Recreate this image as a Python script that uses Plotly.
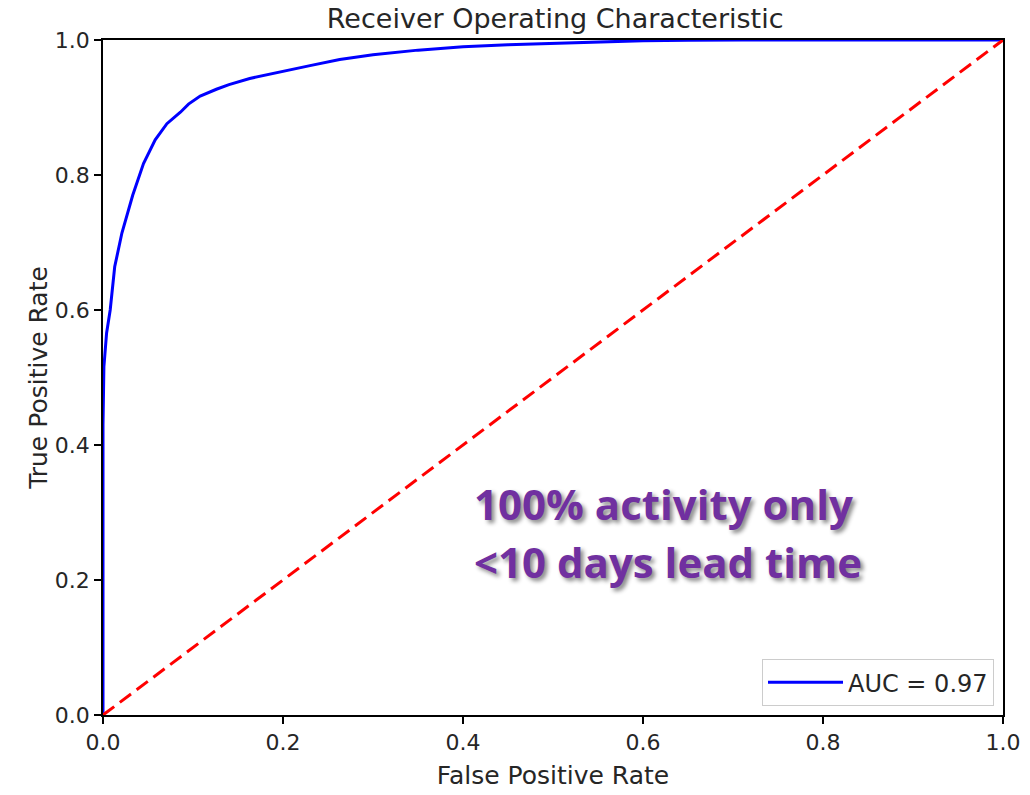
import plotly.graph_objects as go

fpr = [0, 0, 0.001, 0.004, 0.008, 0.013, 0.021, 0.033, 0.045, 0.058, 0.071, 0.086, 0.095,
       0.108, 0.126, 0.14, 0.163, 0.18, 0.208, 0.23, 0.263, 0.3, 0.35, 0.4, 0.45, 0.5, 0.55,
       0.6, 0.65, 0.71, 1.0]
tpr = [0, 0.43, 0.516, 0.566, 0.6, 0.664, 0.714, 0.77, 0.817, 0.852, 0.876, 0.893, 0.905,
       0.917, 0.927, 0.934, 0.943, 0.948, 0.956, 0.962, 0.971, 0.978, 0.985, 0.99, 0.993, 0.995,
       0.997, 0.999, 0.9995, 1.0, 1.0]
diag = [0, 1]
tick_vals = [0.0, 0.2, 0.4, 0.6, 0.8, 1.0]
tick_text = ["0.0", "0.2", "0.4", "0.6", "0.8", "1.0"]
auc_label = "AUC = 0.97"

fig = go.Figure()
fig.add_trace(go.Scatter(x=fpr, y=tpr, mode="lines", name=auc_label,
                         line=dict(color="#0000ff", width=3)))
fig.add_trace(go.Scatter(x=diag, y=diag, mode="lines", showlegend=False,
                         line=dict(color="#ff0000", width=3, dash="14px,7px")))

font_main = "DejaVu Sans"
txt_col = "#262626"
axis_common = dict(range=[0, 1], tickvals=tick_vals, ticktext=tick_text, automargin=False,
                   showgrid=False, zeroline=False, showline=True, linecolor="black",
                   linewidth=1.5, mirror=True, ticks="outside", ticklen=7, tickwidth=1.5,
                   tickcolor="black", tickfont=dict(family=font_main, size=22, color=txt_col))

fig.update_layout(
    width=1030, height=795,
    margin=dict(l=103, r=27, t=40, b=80),
    paper_bgcolor="white", plot_bgcolor="white",
    title=dict(text="Receiver Operating Characteristic", x=0.539, xanchor="center",
               y=0.977, yanchor="middle",
               font=dict(family=font_main, size=27, color=txt_col)),
    xaxis=dict(**axis_common, title=dict(text="False Positive Rate", standoff=12,
                                         font=dict(family=font_main, size=25, color=txt_col))),
    yaxis=dict(**axis_common, title=dict(text="True Positive Rate", standoff=0,
                                         font=dict(family=font_main, size=25, color=txt_col))),
    legend=dict(x=0.99, y=0.013, xanchor="right", yanchor="bottom",
                bgcolor="white", bordercolor="#cccccc", borderwidth=1, itemwidth=75,
                font=dict(family=font_main, size=24, color=txt_col)),
    showlegend=True,
)

fig.add_annotation(x=0.41, y=0.313, xref="x", yref="y", xanchor="left", yanchor="middle",
                   text="100% activity only", showarrow=False,
                   font=dict(family="Open Sans", size=42, color="#7030a0", weight="bold",
                             shadow="3px 3px 4px #888"))
fig.add_annotation(x=0.41, y=0.227, xref="x", yref="y", xanchor="left", yanchor="middle",
                   text="&lt;10 days lead time", showarrow=False,
                   font=dict(family="Open Sans", size=42, color="#7030a0", weight="bold",
                             shadow="3px 3px 4px #888"))

fig.write_html("out.html")
